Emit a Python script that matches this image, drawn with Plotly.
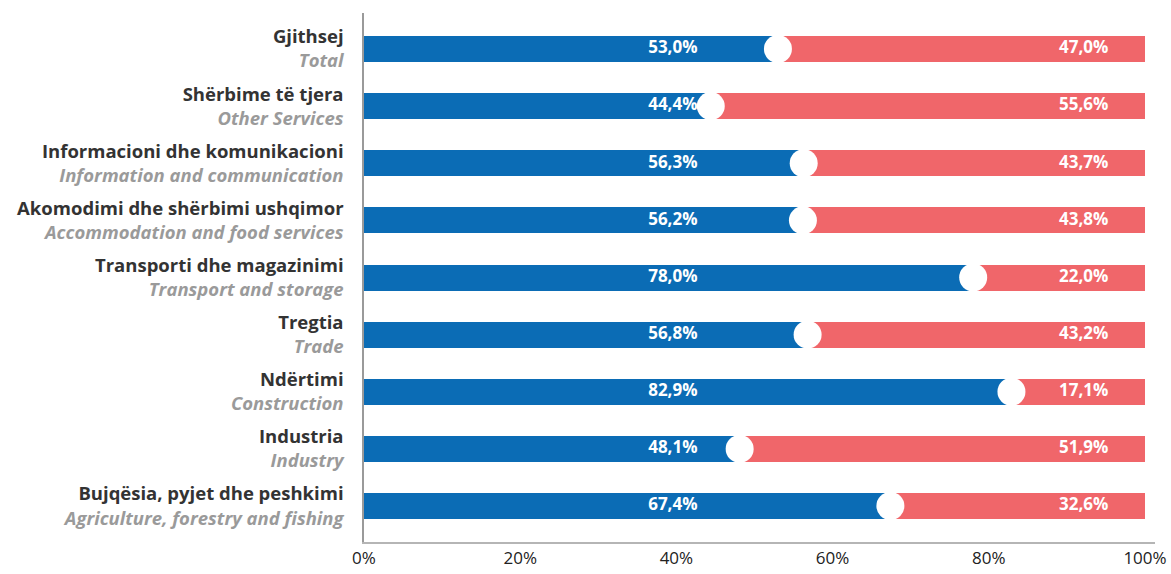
import plotly.graph_objects as go

categories_sq = ["Gjithsej", "Shërbime të tjera", "Informacioni dhe komunikacioni",
                 "Akomodimi dhe shërbimi ushqimor", "Transporti dhe magazinimi",
                 "Tregtia", "Ndërtimi", "Industria", "Bujqësia, pyjet dhe peshkimi"]
categories_en = ["Total", "Other Services", "Information and communication",
                 "Accommodation and food services", "Transport and storage",
                 "Trade", "Construction", "Industry", "Agriculture, forestry and fishing"]
share_blue = [53.0, 44.4, 56.3, 56.2, 78.0, 56.8, 82.9, 48.1, 67.4]
share_red = [47.0, 55.6, 43.7, 43.8, 22.0, 43.2, 17.1, 51.9, 32.6]
x_ticks = [0, 20, 40, 60, 80, 100]
x_tick_labels = ["0%", "20%", "40%", "60%", "80%", "100%"]

BLUE = "#0b6cb5"
RED = "#f0666a"
FONT = "Open Sans"

cats = categories_sq
fmt = lambda v: f"{v:.1f}%".replace(".", ",")
bv = [v / 100 for v in share_blue]
rv = [v / 100 for v in share_red]

fig = go.Figure()
fig.add_bar(y=cats, x=bv, orientation="h", marker=dict(color=BLUE, line_width=0),
            width=0.455, hoverinfo="skip")
fig.add_bar(y=cats, x=rv, orientation="h", marker=dict(color=RED, line_width=0),
            width=0.455, hoverinfo="skip")
fig.add_scatter(y=cats, x=bv, mode="markers", marker=dict(color="white", size=28, line_width=0),
                cliponaxis=False, hoverinfo="skip")
fig.add_scatter(y=cats, x=[0.427] * len(cats), mode="text", text=[fmt(v) for v in share_blue],
                textposition="middle left",
                textfont=dict(family=FONT, size=17, color="white", weight="bold"), hoverinfo="skip")
fig.add_scatter(y=cats, x=[0.953] * len(cats), mode="text", text=[fmt(v) for v in share_red],
                textposition="middle left",
                textfont=dict(family=FONT, size=17, color="white", weight="bold"), hoverinfo="skip")

ticktext = [f"<b>{a}</b><br><i><span style='color:#9a9a9a'><b>{b}</b></span></i>"
            for a, b in zip(categories_sq, categories_en)]

fig.update_layout(
    barmode="stack",
    width=1171, height=574,
    margin=dict(l=364, r=16, t=13, b=32, autoexpand=False),
    plot_bgcolor="white", paper_bgcolor="white",
    showlegend=False,
    font=dict(family=FONT),
    xaxis=dict(range=[0, 1.0128], tickvals=[t / 100 for t in x_ticks], ticktext=x_tick_labels,
               showgrid=False, zeroline=False, showline=True, linecolor="#b5b5b5", linewidth=1.5,
               ticks="", automargin=False, tickfont=dict(family=FONT, size=17, color="#222")),
    yaxis=dict(type="category", categoryorder="array", categoryarray=list(reversed(cats)),
               range=[-0.63, 8.63], tickvals=cats, ticktext=ticktext,
               showgrid=False, zeroline=False, showline=True, linecolor="#9a9a9a", linewidth=1.5,
               ticks="", ticklabelstandoff=15, automargin=False,
               tickfont=dict(family=FONT, size=18.5, color="#333333")),
)

fig.write_html("out.html", config={"displayModeBar": False},
               post_script="document.body.style.margin='0';document.body.style.overflow='hidden';")
